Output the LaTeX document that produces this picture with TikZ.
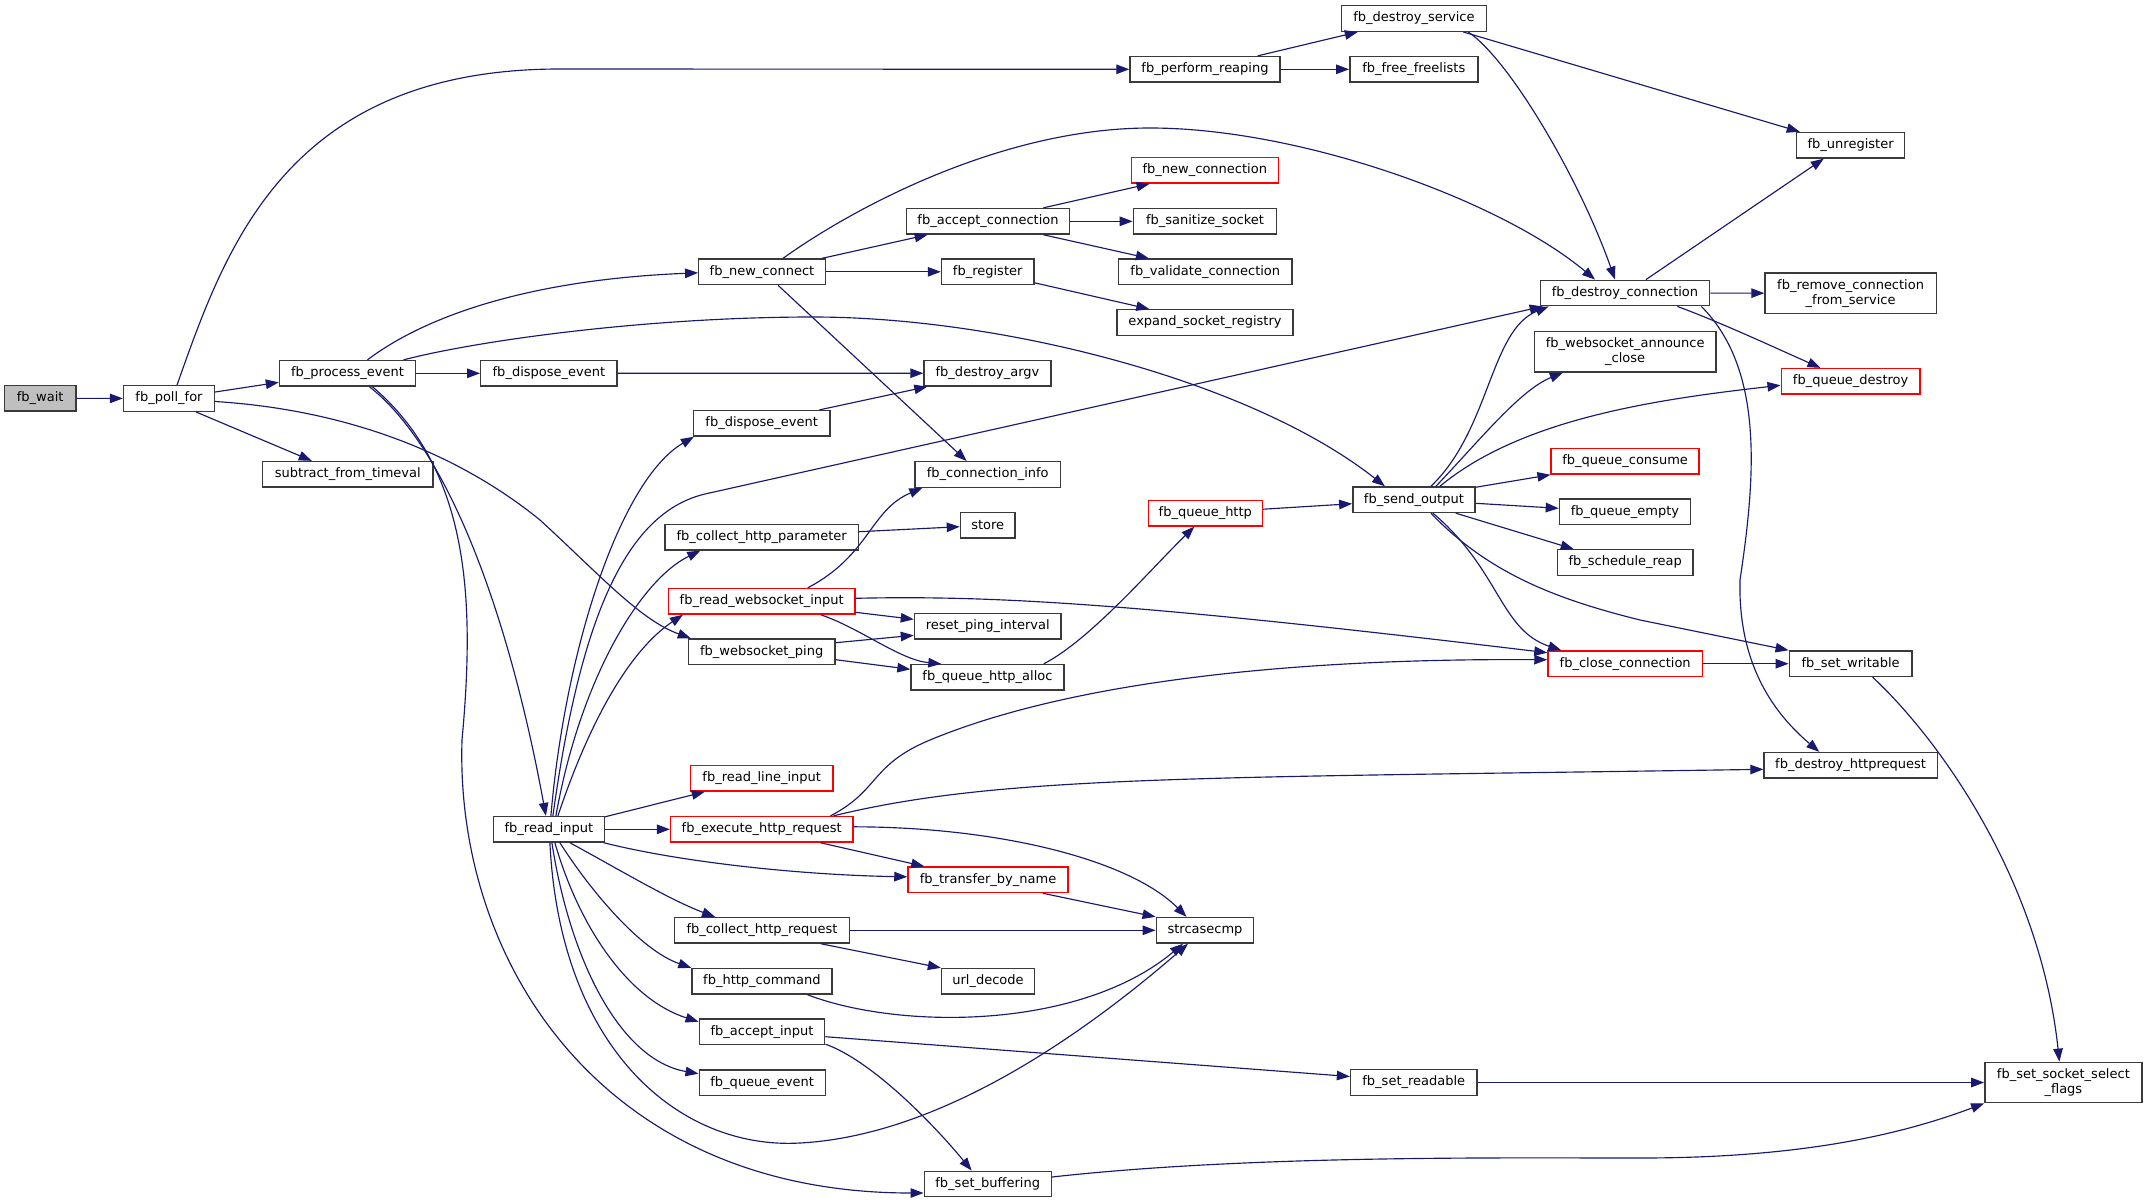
\documentclass[tikz,border=0pt]{standalone}
\usepackage{fontspec}
\setmainfont{DejaVu Sans}
\usetikzlibrary{arrows.meta,calc}
\definecolor{edgeblue}{HTML}{191970}
\definecolor{boxline}{HTML}{3A3A3A}
\definecolor{rootfill}{HTML}{BFBFBF}
\begin{document}
\begin{tikzpicture}[x=1pt,y=-1pt,
  fn/.style={draw=boxline, line width=1.4pt, fill=white, inner sep=0pt, minimum height=25.5pt, font=\fontsize{13}{15}\selectfont, align=center},
  trunc/.style={fn, draw=red},
  rootnode/.style={fn, fill=rootfill},
  twoline/.style={minimum height=40.4pt},
  callarrow/.style={draw=edgeblue, line width=1.15pt, -{Triangle[length=13pt,width=9.5pt]}}]
\fill[white] (0,0) rectangle (2148,1203);
\useasboundingbox (0,0) rectangle (2148,1203);

% nodes
\node[rootnode, minimum width=71.2pt] (wait) at (40.2,398.3) {fb\_wait};
\node[fn, minimum width=91pt] (poll) at (169,398.5) {fb\_poll\_for};
\node[fn, minimum width=136pt] (pe) at (347.5,373.3) {fb\_process\_event};
\node[fn, minimum width=136.3pt] (de1) at (548.9,373.3) {fb\_dispose\_event};
\node[fn, minimum width=170.4pt] (sub) at (347.8,474.3) {subtract\_from\_timeval};
\node[fn, minimum width=110.6pt] (ri) at (548.9,829.3) {fb\_read\_input};
\node[fn, minimum width=145pt] (dsvc) at (1414,18.5) {fb\_destroy\_service};
\node[fn, minimum width=150pt] (pr) at (1205,69.3) {fb\_perform\_reaping};
\node[fn, minimum width=128pt] (ffl) at (1413.8,69.3) {fb\_free\_freelists};
\node[trunc, minimum width=147pt] (nconn) at (1204.8,170.3) {fb\_new\_connection};
\node[fn, minimum width=163.3pt] (acon) at (988,221.3) {fb\_accept\_connection};
\node[fn, minimum width=143.3pt] (san) at (1205,221.3) {fb\_sanitize\_socket};
\node[fn, minimum width=126.5pt] (nc) at (762,271.8) {fb\_new\_connect};
\node[fn, minimum width=92.4pt] (reg) at (987.7,271.8) {fb\_register};
\node[fn, minimum width=173.4pt] (val) at (1205.3,271.8) {fb\_validate\_connection};
\node[fn, minimum width=176pt] (esr) at (1205,322.5) {expand\_socket\_registry};
\node[fn, minimum width=127pt] (argv) at (987.5,373.2) {fb\_destroy\_argv};
\node[fn, minimum width=108.3pt] (unreg) at (1850.6,145.2) {fb\_unregister};
\node[fn, minimum width=169.3pt] (dc) at (1625,293) {fb\_destroy\_connection};
\node[fn, twoline, minimum width=171.3pt] (rcs) at (1850.6,293.2) {fb\_remove\_connection\\\_from\_service};
\node[fn, twoline, minimum width=181.3pt] (wac) at (1625.2,351.8) {fb\_websocket\_announce\\\_close};
\node[trunc, minimum width=138.8pt] (qd) at (1850.6,381.3) {fb\_queue\_destroy};
\node[fn, minimum width=136.2pt] (de2) at (761.7,423.3) {fb\_dispose\_event};
\node[fn, minimum width=145.4pt] (ci) at (987.7,474.5) {fb\_connection\_info};
\node[fn, minimum width=193.4pt] (chp) at (761.7,537.2) {fb\_collect\_http\_parameter};
\node[fn, minimum width=54.6pt] (store) at (987.7,525.3) {store};
\node[trunc, minimum width=114.2pt] (qh) at (1205.3,513.2) {fb\_queue\_http};
\node[fn, minimum width=122.2pt] (so) at (1413.9,499.7) {fb\_send\_output};
\node[trunc, minimum width=186.2pt] (rwi) at (761.7,601.3) {fb\_read\_websocket\_input};
\node[fn, minimum width=146.5pt] (rpi) at (987.7,626.3) {reset\_ping\_interval};
\node[fn, minimum width=146.5pt] (wp) at (761.7,651.7) {fb\_websocket\_ping};
\node[fn, minimum width=153pt] (qha) at (987.5,677.3) {fb\_queue\_http\_alloc};
\node[trunc, minimum width=142.4pt] (rli) at (761.7,778.3) {fb\_read\_line\_input};
\node[trunc, minimum width=182.2pt] (ehr) at (761.7,829.3) {fb\_execute\_http\_request};
\node[trunc, minimum width=147.9pt] (qc) at (1625.1,461.3) {fb\_queue\_consume};
\node[fn, minimum width=131.2pt] (qe) at (1625,511.8) {fb\_queue\_empty};
\node[fn, minimum width=135.6pt] (sr) at (1625.2,562.5) {fb\_schedule\_reap};
\node[trunc, minimum width=154.5pt] (cc) at (1625.2,663.7) {fb\_close\_connection};
\node[fn, minimum width=122.7pt] (sw) at (1850.6,663.7) {fb\_set\_writable};
\node[fn, minimum width=173.2pt] (dh) at (1850.6,765.3) {fb\_destroy\_httprequest};
\node[trunc, minimum width=160.1pt] (tbn) at (988,879.8) {fb\_transfer\_by\_name};
\node[fn, minimum width=174.5pt] (chr) at (762,930.3) {fb\_collect\_http\_request};
\node[fn, minimum width=97.5pt] (scmp) at (1205,930.3) {strcasecmp};
\node[fn, minimum width=139.8pt] (hc) at (761.9,981.3) {fb\_http\_command};
\node[fn, minimum width=92.9pt] (ud) at (988,981.3) {url\_decode};
\node[fn, minimum width=125.5pt] (ai) at (762,1031.7) {fb\_accept\_input};
\node[fn, minimum width=126pt] (qev) at (762.2,1082.7) {fb\_queue\_event};
\node[fn, minimum width=127pt] (sb) at (987.7,1184) {fb\_set\_buffering};
\node[fn, minimum width=126.5pt] (srd) at (1413.8,1082.5) {fb\_set\_readable};
\node[fn, twoline, minimum width=157.2pt] (ssf) at (2063.4,1082.5) {fb\_set\_socket\_select\\\_flags};

% edges
\draw[callarrow] (wait) -- (poll);
\draw[callarrow] ($(poll.north)+(8,0)$) .. controls (225,250) and (285,69) .. (560,69) -- (pr.west);
\draw[callarrow] ($(poll.east)+(0,-6.5)$) -- ($(pe.west)+(0,9)$);
\draw[callarrow] ($(poll.south)+(27,0)$) -- ($(sub.north)+(-36,0)$);
\draw[callarrow] ($(poll.east)+(0,3)$) .. controls (350,410) and (460,455) .. (540,520) .. controls (600,575) and (640,620) .. ($(wp.north west)+(3,0)$);

\draw[callarrow] ($(pe.north)+(20,0)$) .. controls (420,320) and (520,280) .. ($(nc.west)+(0,1)$);
\draw[callarrow] (pe) -- (de1);
\draw[callarrow] ($(pe.north)+(56,0)$) .. controls (480,340) and (650,317) .. (813,317) .. controls (1000,317) and (1250,380) .. ($(so.north)+(-29,0)$);
\draw[callarrow] ($(pe.south)+(22,0)$) .. controls (450,450) and (510,620) .. ($(ri.north)+(-3,0)$);
\draw[callarrow] ($(pe.south)+(25,0)$) .. controls (470,470) and (475,600) .. (462,740) .. controls (455,960) and (600,1193) .. ($(sb.west)+(0,9)$);

\draw[callarrow] (de1) -- (argv);

\draw[callarrow] ($(ri.north)+(2,0)$) .. controls (565,650) and (620,480) .. ($(de2.south west)+(1,0)$);
\draw[callarrow] ($(ri.north)+(4,0)$) .. controls (580,620) and (625,513) .. (705,494) -- ($(dc.south west)+(3,0)$);
\draw[callarrow] ($(ri.north)+(7,0)$) .. controls (580,680) and (640,580) .. ($(chp.south west)+(36,0)$);
\draw[callarrow] ($(ri.north)+(9,0)$) .. controls (590,720) and (630,650) .. ($(rwi.south west)+(15,0)$);
\draw[callarrow] ($(ri.north east)+(0,1)$) -- ($(rli.south west)+(15,0)$);
\draw[callarrow] (ri) -- (ehr);
\draw[callarrow] ($(ri.south east)+(-1,0)$) .. controls (680,862) and (800,875) .. ($(tbn.west)+(0,-3)$);
\draw[callarrow] ($(ri.south)+(21,0)$) .. controls (620,870) and (670,900) .. ($(chr.north west)+(41,0)$);
\draw[callarrow] ($(ri.south)+(11,0)$) .. controls (590,890) and (640,950) .. (hc.north west);
\draw[callarrow] ($(ri.south)+(6,0)$) .. controls (580,930) and (630,1000) .. ($(ai.west)+(0,-10)$);
\draw[callarrow] ($(ri.south)+(3,0)$) .. controls (570,960) and (620,1060) .. ($(qev.west)+(0,-9)$);
\draw[callarrow] ($(ri.south)+(1,0)$) .. controls (560,1050) and (680,1150) .. (800,1143) .. controls (950,1135) and (1100,1020) .. ($(scmp.south)+(-17,0)$);

\draw[callarrow] ($(nc.north east)+(-4,0)$) -- ($(acon.south west)+(22,0)$);
\draw[callarrow] (nc) -- (reg);
\draw[callarrow] ($(nc.north)+(21,0)$) .. controls (850,210) and (1000,128) .. (1150,128) .. controls (1300,128) and (1500,200) .. ($(dc.north)+(-30,0)$);
\draw[callarrow] ($(nc.south)+(16,0)$) -- ($(ci.north)+(-21,0)$);

\draw[callarrow] ($(acon.north east)+(-27,0)$) -- ($(nconn.south west)+(19,0)$);
\draw[callarrow] (acon) -- (san);
\draw[callarrow] ($(acon.south east)+(-27,0)$) -- ($(val.north west)+(31,0)$);
\draw[callarrow] ($(reg.east)+(0,11)$) -- ($(esr.north west)+(33,0)$);
\draw[callarrow] ($(de2.north east)+(-11,0)$) -- ($(argv.south west)+(4,0)$);
\draw[callarrow] ($(chp.east)+(0,-5.5)$) -- ($(store.west)+(0,1.4)$);

\draw[callarrow] ($(rwi.north)+(46,0)$) .. controls (870,555) and (870,510) .. ($(ci.south west)+(8,0)$);
\draw[callarrow] ($(rwi.east)+(0,11)$) -- ($(rpi.west)+(0,-7)$);
\draw[callarrow] ($(rwi.south)+(59,0)$) .. controls (860,628) and (900,660) .. ($(qha.north west)+(31,0)$);
\draw[callarrow] ($(rwi.east)+(0,-3)$) .. controls (1000,595) and (1150,605) .. ($(cc.west)+(0,-11)$);
\draw[callarrow] ($(wp.east)+(0,-9)$) -- ($(rpi.west)+(0,9)$);
\draw[callarrow] ($(wp.east)+(0,8)$) -- ($(qha.west)+(0,-8)$);
\draw[callarrow] ($(qha.north east)+(-21,0)$) .. controls (1090,640) and (1150,570) .. ($(qh.south)+(-11,0)$);
\draw[callarrow] ($(qh.east)+(0,-4)$) -- ($(so.west)+(0,4)$);

\draw[callarrow] ($(so.north)+(17,0)$) .. controls (1490,430) and (1490,330) .. ($(dc.south west)+(9,0)$);
\draw[callarrow] ($(so.north)+(22,0)$) .. controls (1480,440) and (1520,390) .. ($(wac.south west)+(29,0)$);
\draw[callarrow] ($(so.north)+(26,0)$) .. controls (1520,420) and (1650,400) .. ($(qd.west)+(0,4)$);
\draw[callarrow] ($(so.north east)+(0,1)$) -- (qc.south west);
\draw[callarrow] ($(so.east)+(0,3.6)$) -- ($(qe.west)+(0,-3.5)$);
\draw[callarrow] ($(so.south east)+(-20,0)$) -- ($(sr.north west)+(17,0)$);
\draw[callarrow] ($(so.south)+(19,0)$) .. controls (1500,570) and (1500,630) .. ($(cc.north west)+(14,0)$);
\draw[callarrow] ($(so.south)+(17,0)$) .. controls (1490,575) and (1560,600) .. (1640,620) -- (sw.north west);

\draw[callarrow] ($(dsvc.south east)+(-24,0)$) -- ($(unreg.north west)+(4,0)$);
\draw[callarrow] ($(dsvc.south east)+(-19,0)$) .. controls (1510,60) and (1580,180) .. ($(dc.north)+(-10,0)$);
\draw[callarrow] ($(pr.north east)+(-23,0)$) -- ($(dsvc.south west)+(17,0)$);
\draw[callarrow] (pr) -- (ffl);

\draw[callarrow] ($(dc.north)+(21,0)$) -- ($(unreg.south west)+(28,0)$);
\draw[callarrow] (dc) -- (rcs);
\draw[callarrow] ($(dc.south east)+(-33,0)$) .. controls (1720,322) and (1780,350) .. ($(qd.north west)+(40,0)$);
\draw[callarrow] ($(dc.south east)+(-9,0)$) .. controls (1765,370) and (1755,480) .. (1740,580) .. controls (1738,660) and (1770,710) .. ($(dh.north west)+(56,0)$);

\draw[callarrow] ($(ehr.north east)+(-23,0)$) .. controls (880,790) and (870,765) .. (930,740) .. controls (1050,690) and (1250,658) .. ($(cc.west)+(0,-4)$);
\draw[callarrow] ($(ehr.north east)+(-20,0)$) .. controls (1000,775) and (1200,778) .. ($(dh.west)+(0,4)$);
\draw[callarrow] ($(ehr.south east)+(-33,0)$) -- ($(tbn.north west)+(17,0)$);
\draw[callarrow] ($(ehr.east)+(0,-2.5)$) .. controls (1000,827) and (1130,860) .. ($(scmp.north west)+(31,0)$);
\draw[callarrow] ($(tbn.south east)+(-26,0)$) -- (scmp.north west);
\draw[callarrow] (chr) -- (scmp);
\draw[callarrow] ($(chr.south east)+(-29,0)$) -- (ud.north west);
\draw[callarrow] ($(hc.south east)+(-25,0)$) .. controls (900,1030) and (1080,1030) .. ($(scmp.south)+(-22,0)$);
\draw[callarrow] ($(ai.east)+(0,5)$) -- ($(srd.west)+(0,-6)$);
\draw[callarrow] ($(ai.south east)+(0,-1)$) .. controls (870,1060) and (930,1120) .. ($(sb.north)+(-16,0)$);
\draw[callarrow] (srd) -- (ssf);
\draw[callarrow] ($(sw.south)+(22,0)$) .. controls (1940,740) and (2040,880) .. ($(ssf.north)+(-4,0)$);
\draw[callarrow] (cc) -- (sw);
\draw[callarrow] ($(sb.east)+(0,-7)$) .. controls (1250,1155) and (1500,1158) .. (1640,1158) .. controls (1800,1158) and (1900,1135) .. (ssf.south west);
\end{tikzpicture}
\end{document}
